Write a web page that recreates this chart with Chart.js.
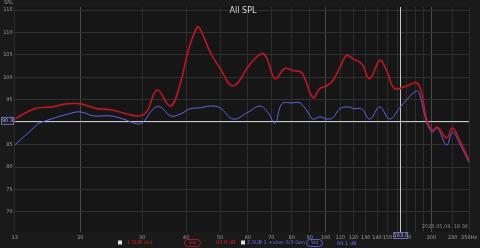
<!DOCTYPE html>
<html>
<head>
<meta charset="utf-8">
<script src="https://cdn.jsdelivr.net/npm/chart.js@4.4.0/dist/chart.umd.min.js"></script>
<style>
  html, body { margin: 0; padding: 0; background: #1a1a1a; }
  #wrap { width: 480px; height: 248px; }
</style>
</head>
<body>
<div id="wrap"><canvas id="spl"></canvas></div>
<script>
// Frequency ticks (Hz) and SPL ticks (dB)
const freqTicks = [13, 20, 30, 40, 50, 60, 70, 80, 90, 100, 110, 120, 130, 140, 150, 160, 170, 180, 190, 200, 230, 256];
const freqMajor = [20, 100, 200];
const splTicks = [70, 75, 80, 85, 90, 95, 100, 105, 110, 115];

// Trace 1 — red
const freqRed = [13, 14.8, 16.5, 18.4, 20.0, 22.4, 24.4, 27.2, 29.6, 31.0, 33.1, 36.1, 38.5, 40.6, 43.0, 43.9,
  46.9, 50.0, 54.5, 60.9, 65.8, 68.0, 71.7, 76.5, 80.6, 85.5, 91.9, 96.2, 100.7, 104.8, 109.7, 114.8,
  119.4, 126.6, 133.5, 142.5, 149.1, 157.1, 170, 181.5, 187.5, 193.7, 201.5, 208, 221, 229.7, 240.4, 256];
const splRed = [90.7, 93.0, 93.4, 94.1, 94.1, 93.0, 92.8, 91.8, 91.4, 92.5, 97.2, 93.6, 98.6, 106, 111.2, 110.8,
  105.6, 102, 98.1, 103, 105.3, 104.2, 99.7, 102, 101.5, 101, 95.5, 97.5, 98.1, 99.3, 102.2, 104.9,
  104.2, 103, 99.7, 103.8, 101.5, 97.5, 98.1, 98.8, 96.6, 90.7, 88.2, 88.9, 86.5, 88.7, 86, 81.5];

// Trace 2 — blue
const freqBlue = [13, 14.8, 15.1, 16.5, 18.4, 20.0, 21.8, 24.4, 26.5, 29.1, 30.2, 32.3, 33.8, 36.1, 38.5, 41.1,
  43.9, 46.9, 50.0, 54.5, 59.7, 65.0, 68.5, 71.7, 75.0, 80.1, 84.4, 88.4, 91.9, 96.2, 100.7, 104.8,
  109.7, 115.6, 121, 126.6, 133.5, 142.5, 152.1, 162.5, 171, 181.5, 185, 191, 195, 201.5, 208, 221,
  229.7, 240.4, 256];
const splBlue = [84.9, 88.9, 89.6, 90.7, 91.8, 92.3, 91.4, 91.4, 90.7, 89.6, 90, 93, 93.4, 91.4, 91.8, 93,
  93.2, 93.6, 93.2, 90.7, 92.1, 93.6, 92.1, 89.8, 94.1, 94.3, 94.3, 92.5, 90.7, 91.2, 90.7, 91,
  93, 93.4, 93, 93, 90.7, 93.4, 90.7, 93.2, 95.2, 97, 96.3, 91.8, 89.4, 87.8, 88.7, 84.9,
  87.8, 85.3, 81];

// cursor position
const cursorFreq = 163;
const cursorSpl = 90.3;

const FONT = 'DejaVu Sans';

const overlay = {
  id: 'overlay',
  beforeDraw(chart) {
    const ctx = chart.ctx;
    ctx.save();
    ctx.fillStyle = '#1a1a1a';
    ctx.fillRect(0, 0, chart.width, chart.height);
    const a = chart.chartArea;
    ctx.fillStyle = '#161616';
    ctx.fillRect(a.left, a.top, a.right - a.left, a.bottom - a.top);
    ctx.restore();
  },
  beforeDatasetsDraw(chart) {
    const ctx = chart.ctx, a = chart.chartArea;
    const x = chart.scales.x.getPixelForValue(cursorFreq);
    const y = chart.scales.y.getPixelForValue(cursorSpl);
    ctx.save();
    ctx.strokeStyle = '#c8c8c8';
    ctx.lineWidth = 1;
    ctx.beginPath();
    ctx.moveTo(a.left, Math.round(y) + 0.5);
    ctx.lineTo(a.right, Math.round(y) + 0.5);
    ctx.moveTo(Math.round(x) + 0.5, a.top);
    ctx.lineTo(Math.round(x) + 0.5, a.bottom);
    ctx.stroke();
    ctx.restore();
  },
  beforeDatasetDraw(chart, args) {
    if (args.index === 0) {
      chart.ctx.save();
      chart.ctx.shadowColor = 'rgba(140,15,25,0.8)';
      chart.ctx.shadowBlur = 2;
    }
  },
  afterDatasetDraw(chart, args) {
    if (args.index === 0) chart.ctx.restore();
  },
  afterDraw(chart) {
    const ctx = chart.ctx, a = chart.chartArea;
    const x = chart.scales.x.getPixelForValue(cursorFreq);
    const y = chart.scales.y.getPixelForValue(cursorSpl);
    ctx.save();
    ctx.textBaseline = 'middle';

    // title + axis name
    ctx.fillStyle = '#d8d8d8';
    ctx.font = '8px ' + FONT;
    ctx.textAlign = 'center';
    ctx.fillText('All SPL', 243, 11);
    ctx.fillStyle = '#9a9a9a';
    ctx.font = '5px ' + FONT;
    ctx.textAlign = 'left';
    ctx.fillText('SPL', 4, 3);

    // date stamp
    ctx.textAlign = 'right';
    ctx.fillStyle = '#8a8a8a';
    ctx.fillText('2023.05.09. 18:36', a.right - 1, 227);

    // cursor value boxes
    ctx.strokeStyle = '#7070a8';
    ctx.fillStyle = '#1c1c2c';
    ctx.lineWidth = 1;
    ctx.fillRect(1.5, y - 3.5, 12, 7);
    ctx.strokeRect(1.5, y - 3.5, 12, 7);
    ctx.fillRect(x - 6.5, a.bottom + 0.5, 14, 6);
    ctx.strokeRect(x - 6.5, a.bottom + 0.5, 14, 6);
    ctx.fillStyle = '#b0b0d8';
    ctx.textAlign = 'center';
    ctx.fillText(cursorSpl.toFixed(1), 7.5, y);
    ctx.fillText(cursorFreq.toFixed(1), x + 0.5, a.bottom + 3.5);

    // legend row
    const ly = 243;
    ctx.textAlign = 'left';
    ctx.fillStyle = '#e0e0e0';
    ctx.fillRect(118, ly - 2.5, 4, 4);
    ctx.fillRect(241, ly - 2.5, 4, 4);
    ctx.fillStyle = '#c0202c';
    ctx.fillText('1 SUB dist', 127, ly);
    ctx.fillText('93.8 dB', 216, ly);
    ctx.strokeStyle = '#a01c28';
    ctx.beginPath();
    ctx.roundRect(184.5, ly - 3.5, 16, 7, 3.5);
    ctx.stroke();
    ctx.fillText('Vol', 189, ly);
    ctx.fillStyle = '#6a6ae0';
    ctx.fillText('2 SUB 1 +vbss 0/3 Gen', 247, ly);
    ctx.strokeStyle = '#5a5ad0';
    ctx.beginPath();
    ctx.roundRect(306.5, ly - 3.5, 16, 7, 3.5);
    ctx.stroke();
    ctx.fillText('Vol', 311, ly);
    ctx.fillText('89.1 dB', 337, ly + 1);
    ctx.restore();
  }
};

const redPoints = freqRed.map((f, i) => ({ x: f, y: splRed[i] }));
const bluePoints = freqBlue.map((f, i) => ({ x: f, y: splBlue[i] }));

new Chart(document.getElementById('spl'), {
  type: 'line',
  data: {
    datasets: [
      {
        label: '1 SUB dist',
        data: redPoints,
        borderColor: '#b01e2a',
        borderWidth: 1.4,
        pointRadius: 0,
        tension: 0.4,
        fill: false
      },
      {
        label: '2 SUB 1',
        data: bluePoints,
        borderColor: '#6464e6',
        borderWidth: 1,
        pointRadius: 0,
        tension: 0.4,
        fill: false
      }
    ]
  },
  options: {
    responsive: true,
    maintainAspectRatio: false,
    animation: false,
    layout: { padding: { top: 7, right: 7, left: 0, bottom: 0 } },
    plugins: {
      legend: { display: false },
      tooltip: { enabled: false }
    },
    scales: {
      x: {
        type: 'logarithmic',
        min: 13,
        max: 256,
        afterBuildTicks: scale => { scale.ticks = freqTicks.map(v => ({ value: v })); },
        afterFit: scale => { scale.height = 16; },
        border: { display: false },
        grid: {
          drawTicks: false,
          color: ctx => freqMajor.includes(ctx.tick && ctx.tick.value) ? '#4a4a4a' : '#2c2c2c',
          lineWidth: 1
        },
        ticks: {
          autoSkip: false,
          maxRotation: 0,
          padding: 3,
          color: '#9a9a9a',
          font: { family: FONT, size: 5 },
          callback: v => {
            if (v === 160 || v === 180 || v === 190) return '';
            if (v === 256) return '256Hz';
            return String(v);
          }
        }
      },
      y: {
        min: 65.5,
        max: 115.7,
        afterBuildTicks: scale => { scale.ticks = splTicks.map(v => ({ value: v })); },
        afterFit: scale => { scale.width = 14.7; },
        border: { display: false },
        grid: { drawTicks: false, color: '#303030', lineWidth: 1 },
        ticks: {
          padding: 2,
          color: '#9a9a9a',
          font: { family: FONT, size: 5 },
          callback: v => (v === 90 ? '' : String(v))
        }
      }
    }
  },
  plugins: [overlay]
});
</script>
</body>
</html>
